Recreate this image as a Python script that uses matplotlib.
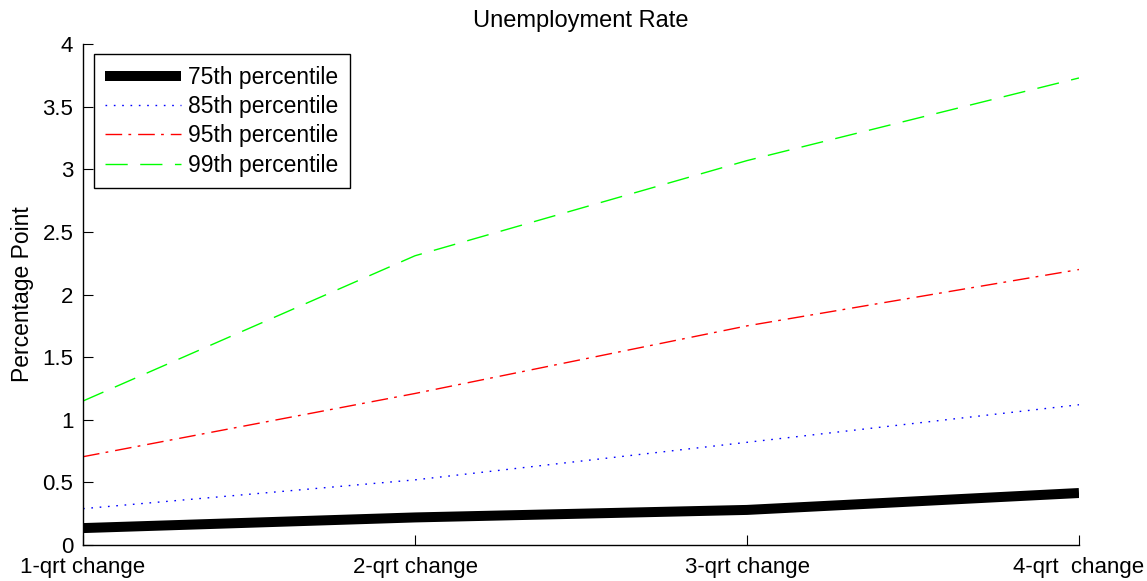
"""Unemployment rate change by horizon for several percentiles."""

import matplotlib
matplotlib.use("Agg")
import matplotlib.pyplot as plt

# Horizons (quarters ahead) and their tick labels.
horizons = [1, 2, 3, 4]
horizon_labels = ["1-qrt change", "2-qrt change", "3-qrt change", "4-qrt  change"]

# Percentage-point change at each horizon.
pct_75 = [0.135, 0.22, 0.28, 0.415]
pct_85 = [0.29, 0.52, 0.82, 1.12]
pct_95 = [0.705, 1.21, 1.75, 2.20]
pct_99 = [1.15, 2.31, 3.07, 3.73]

plt.rcParams["font.family"] = ["Liberation Sans", "DejaVu Sans"]
plt.rcParams["font.size"] = 16

fig = plt.figure(figsize=(11.47, 5.81), dpi=100)
ax = fig.add_axes([0.0724, 0.062, 0.8683, 0.862])

ax.plot(horizons, pct_75, color="black", linewidth=7.2,
        solid_capstyle="butt", label="75th percentile")
ax.plot(horizons, pct_85, color="blue", linewidth=1.0,
        dashes=(1.2, 4.8), label="85th percentile")
ax.plot(horizons, pct_95, color="red", linewidth=1.0,
        dashes=(12, 4.5, 2, 5), label="95th percentile")
ax.plot(horizons, pct_99, color="#00ff00", linewidth=1.0,
        dashes=(16, 9), label="99th percentile")

ax.set_xlim(1, 4)
ax.set_ylim(0, 4)
ax.set_xticks(horizons)
ax.set_xticklabels(horizon_labels)
ax.set_yticks([0, 0.5, 1, 1.5, 2, 2.5, 3, 3.5, 4])
ax.set_yticklabels(["0", "0.5", "1", "1.5", "2", "2.5", "3", "3.5", "4"])
ax.tick_params(direction="in", length=7, width=0.8)
ax.tick_params(axis="x", pad=9)
ax.tick_params(axis="y", pad=7)

ax.spines["top"].set_visible(False)
ax.spines["right"].set_visible(False)
ax.spines["left"].set_linewidth(1.0)
ax.spines["bottom"].set_linewidth(1.0)

ax.set_title("Unemployment Rate", pad=12, fontsize=17)
ax.set_ylabel("Percentage Point", fontsize=16.5, labelpad=6)

leg = ax.legend(loc="upper left", bbox_to_anchor=(0.011, 0.98),
                borderaxespad=0, fancybox=False, framealpha=1,
                edgecolor="black", fontsize=16.5, handlelength=3.3,
                handletextpad=0.3, labelspacing=0.28, borderpad=0.5)
leg.get_frame().set_linewidth(1.0)

fig.savefig("out.png", dpi=100)
